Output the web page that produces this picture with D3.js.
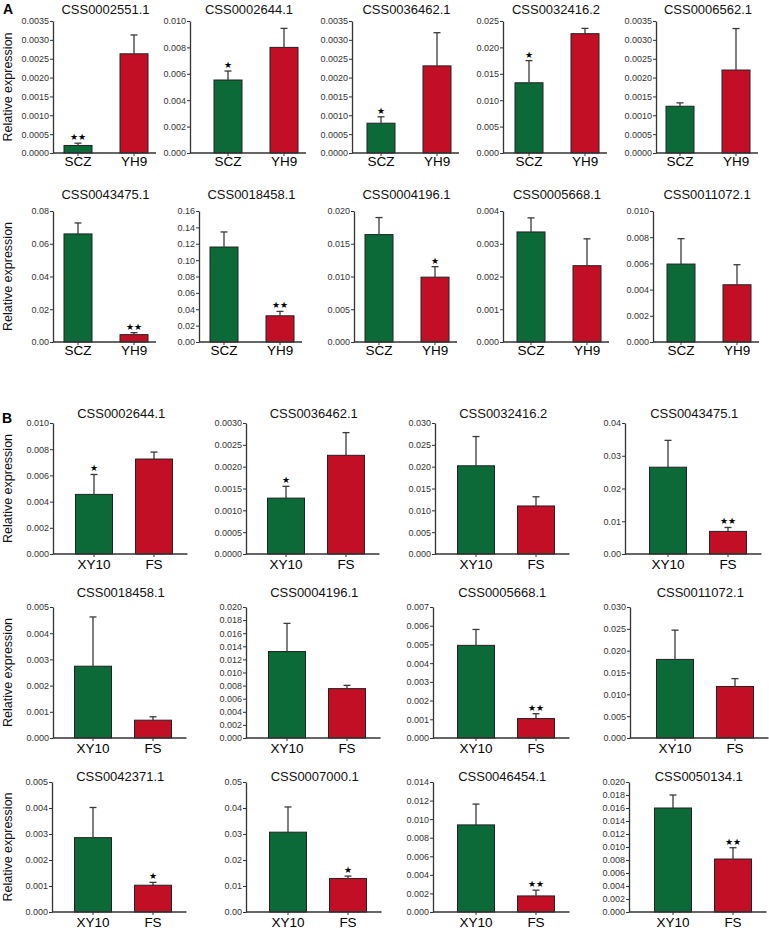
<!DOCTYPE html>
<html><head><meta charset="utf-8">
<script src="https://cdn.jsdelivr.net/npm/d3@7"></script>
<style>body{margin:0;background:#fff} svg{display:block} text{font-family:"Liberation Sans",Arial,sans-serif}</style>
</head><body><svg id="c" width="769" height="930"></svg>
<script>
// ---------- DATA : panel A ----------
const groupsA = ["SCZ", "YH9"];
const genesA = ["CSS0002551.1","CSS0002644.1","CSS0036462.1","CSS0032416.2","CSS0006562.1",
                "CSS0043475.1","CSS0018458.1","CSS0004196.1","CSS0005668.1","CSS0011072.1"];
const meanA_SCZ = [0.00020, 0.00553, 0.00079, 0.0133, 0.00124, 0.0660, 0.116, 0.0164, 0.00336, 0.00595];
const sdA_SCZ   = [0.00006, 0.00068, 0.00017, 0.0042, 0.00009, 0.0067, 0.0184, 0.0026, 0.00043, 0.00194];
const meanA_YH9 = [0.00263, 0.00800, 0.00231, 0.0226, 0.00220, 0.0045, 0.032, 0.0099, 0.00233, 0.00437];
const sdA_YH9   = [0.00050, 0.00144, 0.00088, 0.0010, 0.00110, 0.0012, 0.0054, 0.0016, 0.00082, 0.00153];
const starsA_SCZ = ["**","*","*","*","","","","","",""];
const starsA_YH9 = ["","","","","","**","**","*","",""];
const yMaxA  = [0.0035, 0.010, 0.0035, 0.025, 0.0035, 0.08, 0.16, 0.020, 0.004, 0.010];
const yStepA = [0.0005, 0.002, 0.0005, 0.005, 0.0005, 0.02, 0.02, 0.005, 0.001, 0.002];

// ---------- DATA : panel B ----------
const groupsB = ["XY10", "FS"];
const genesB = ["CSS0002644.1","CSS0036462.1","CSS0032416.2","CSS0043475.1",
                "CSS0018458.1","CSS0004196.1","CSS0005668.1","CSS0011072.1",
                "CSS0042371.1","CSS0007000.1","CSS0046454.1","CSS0050134.1"];
const meanB_XY10 = [0.00455, 0.00128, 0.0202, 0.0265, 0.00274, 0.0132, 0.00495, 0.0180, 0.00286, 0.0307, 0.00938, 0.0160];
const sdB_XY10   = [0.00152, 0.00027, 0.0067, 0.0082, 0.00188, 0.0043, 0.00085, 0.0067, 0.00116, 0.0097, 0.00224, 0.0020];
const meanB_FS   = [0.00725, 0.00226, 0.0110, 0.0069, 0.00068, 0.00754, 0.00104, 0.0118, 0.00103, 0.0129, 0.00173, 0.00815];
const sdB_FS     = [0.00053, 0.00052, 0.0021, 0.0012, 0.00013, 0.0005, 0.00026, 0.0018, 0.00011, 0.0009, 0.00062, 0.00174];
const starsB_XY10 = ["*","*","","","","","","","","","",""];
const starsB_FS   = ["","","","**","","","**","","*","*","**","**"];
const yMaxB  = [0.010, 0.0030, 0.030, 0.04, 0.005, 0.020, 0.007, 0.030, 0.005, 0.05, 0.014, 0.020];
const yStepB = [0.002, 0.0005, 0.005, 0.01, 0.001, 0.002, 0.001, 0.005, 0.001, 0.01, 0.002, 0.002];

const yLabel = "Relative expression";
const colors = ["#0b6a37", "#c20f25"];

// ---------- LAYOUT ----------
const layoutA = {
  rows: [{top: 21, base: 153, titleY: 14}, {top: 211, base: 342, titleY: 199}],
  axisX: [[53,190,352,503,656],[53,199,354,503,653]],
  c1:    [[78,228,381,529,680],[78,224,379,531,681]],
  step: 56, barW: 28, extra: 8, labelDy: 13
};
const layoutB = {
  rows: [{top: 423, base: 554, titleY: 418}, {top: 607, base: 738, titleY: 597}, {top: 782, base: 912, titleY: 781}],
  axisX: [[53,246,435,625],[53,246,433,630],[52,246,433,629]],
  c1:    [[94,286,476,668],[93,287,476,675],[93,288,476,673]],
  step: 60, barW: 37, extra: 15, labelDy: 15
};

const svg = d3.select("#c");
const ink = "#333";

function drawPanel(p) {
  const g = svg.append("g");
  const y = d3.scaleLinear().domain([0, p.yMax]).range([p.base, p.top]);
  const pi = 1 - p.barW / p.step;
  const x = d3.scaleBand().domain(p.groups)
    .range([p.c1 - p.step / 2, p.c1 + 1.5 * p.step])
    .paddingInner(pi).paddingOuter(pi / 2);
  const axisEnd = x(p.groups[1]) + x.bandwidth() + p.extra;

  // bars
  g.selectAll("rect.bar").data(p.groups).join("rect")
    .attr("x", d => x(d)).attr("width", x.bandwidth())
    .attr("y", (d, i) => y(p.means[i]))
    .attr("height", (d, i) => p.base - y(p.means[i]))
    .attr("fill", (d, i) => colors[i])
    .attr("stroke", "#222").attr("stroke-width", 1);

  // error bars (upper only)
  p.groups.forEach((d, i) => {
    const cx = x(d) + x.bandwidth() / 2;
    const yt = y(p.means[i] + p.sds[i]);
    g.append("line").attr("x1", cx).attr("x2", cx)
      .attr("y1", y(p.means[i])).attr("y2", yt)
      .attr("stroke", "#3a3a3a").attr("stroke-width", 1.3);
    g.append("line").attr("x1", cx - 3.5).attr("x2", cx + 3.5)
      .attr("y1", yt).attr("y2", yt)
      .attr("stroke", "#3a3a3a").attr("stroke-width", 1.3);
    if (p.stars[i]) {
      g.append("text").attr("x", cx).attr("y", yt - 3)
        .attr("text-anchor", "middle")
        .style("font-family", "'DejaVu Sans', sans-serif")
        .style("font-size", "9px").attr("fill", "#000")
        .text(p.stars[i].replace(/\*/g, "\u2605"));
    }
  });

  // y axis
  const dec = Math.max(0, -Math.floor(Math.log10(p.yStep) + 1e-9));
  const ticks = d3.range(0, p.yMax + p.yStep / 2, p.yStep);
  const ya = g.append("g").attr("transform", `translate(${p.axisX},0)`)
    .call(d3.axisLeft(y).tickValues(ticks).tickFormat(d3.format(`.${dec}f`))
      .tickSize(3).tickPadding(1).tickSizeOuter(0));
  ya.select(".domain").attr("stroke", ink).attr("stroke-width", 1.3);
  ya.selectAll(".tick line").attr("stroke", ink).attr("stroke-width", 1);
  ya.selectAll(".tick text").attr("fill", "#333").style("font-size", "9px")
    .style("font-family", "'Liberation Sans', Arial, sans-serif");

  // x axis
  const xa = g.append("g").attr("transform", `translate(0,${p.base})`)
    .call(d3.axisBottom(x).tickSize(3).tickSizeOuter(0));
  xa.select(".domain").remove();
  xa.selectAll(".tick line").attr("stroke", ink).attr("stroke-width", 1);
  xa.selectAll(".tick text").attr("y", p.labelDy).attr("dy", null)
    .attr("fill", "#000").style("font-size", "13.5px")
    .style("font-family", "'Liberation Sans', Arial, sans-serif");
  g.append("line").attr("x1", p.axisX).attr("x2", axisEnd)
    .attr("y1", p.base).attr("y2", p.base)
    .attr("stroke", ink).attr("stroke-width", 1.3);

  // title
  g.append("text").attr("x", (p.axisX + axisEnd) / 2 + 1).attr("y", p.titleY)
    .attr("text-anchor", "middle").style("font-size", "13px").attr("fill", "#111")
    .text(p.gene);

  if (p.first) {
    g.append("text")
      .attr("transform", `translate(12,${(p.top + p.base) / 2}) rotate(-90)`)
      .attr("text-anchor", "middle").style("font-size", "12.5px").attr("fill", "#111")
      .text(yLabel);
  }
}

function drawSet(L, groups, genes, m0, s0, m1, s1, st0, st1, yMax, yStep, perRow) {
  genes.forEach((gene, k) => {
    const r = Math.floor(k / perRow), c = k % perRow;
    const row = L.rows[r];
    drawPanel({
      gene, groups,
      means: [m0[k], m1[k]], sds: [s0[k], s1[k]], stars: [st0[k], st1[k]],
      yMax: yMax[k], yStep: yStep[k],
      axisX: L.axisX[r][c], c1: L.c1[r][c], step: L.step, barW: L.barW,
      extra: L.extra, labelDy: L.labelDy,
      top: row.top, base: row.base, titleY: row.titleY, first: c === 0
    });
  });
}

drawSet(layoutA, groupsA, genesA, meanA_SCZ, sdA_SCZ, meanA_YH9, sdA_YH9, starsA_SCZ, starsA_YH9, yMaxA, yStepA, 5);
drawSet(layoutB, groupsB, genesB, meanB_XY10, sdB_XY10, meanB_FS, sdB_FS, starsB_XY10, starsB_FS, yMaxB, yStepB, 4);

svg.append("text").attr("x", 3).attr("y", 14).style("font-size", "14px")
  .style("font-weight", "bold").attr("fill", "#000").text("A");
svg.append("text").attr("x", 2).attr("y", 423).style("font-size", "14px")
  .style("font-weight", "bold").attr("fill", "#000").text("B");
</script></body></html>
